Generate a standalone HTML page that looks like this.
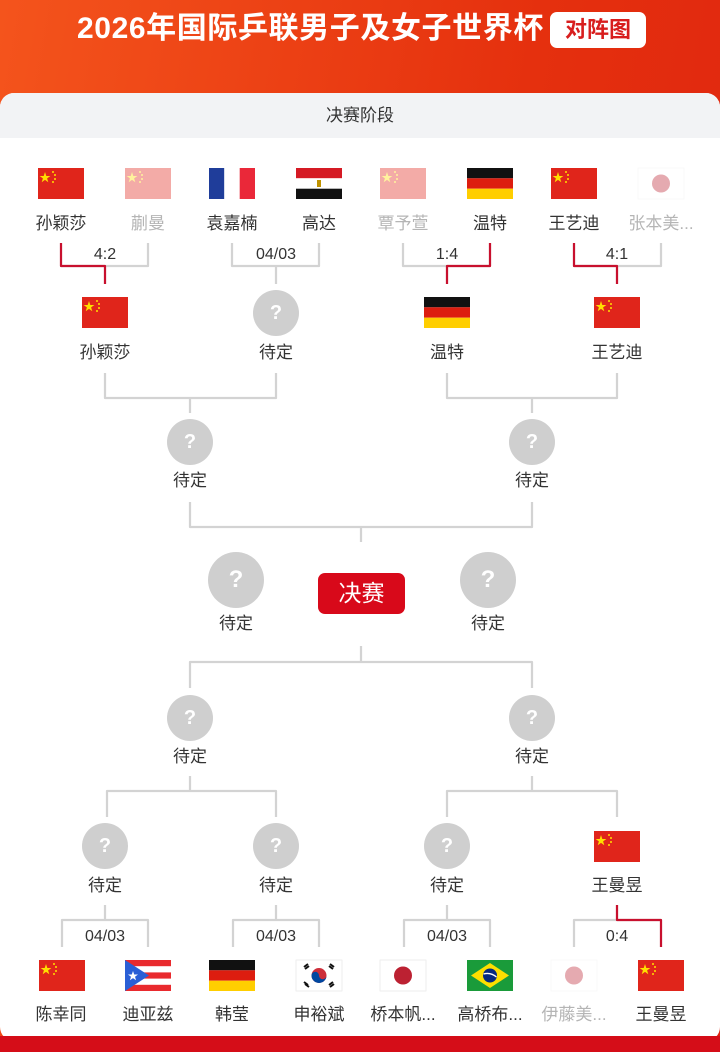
<!DOCTYPE html>
<html><head><meta charset="utf-8"><style>
*{margin:0;padding:0;box-sizing:border-box}
body{width:720px;height:1052px;overflow:hidden;position:relative;font-family:"Liberation Sans","Noto Sans CJK SC",sans-serif;background:linear-gradient(100deg,#f4541c,#e5300e 60%,#de2410)}
.bot{position:absolute;left:0;top:1036px;width:720px;height:16px;background:#d50d18}
.card{position:absolute;left:0;top:93px;width:720px;height:948px;background:#fff;border-radius:14px;overflow:hidden}
.strip{height:45px;background:#f2f3f5;text-align:center;line-height:45px;font-size:17px;color:#333}
.title{position:absolute;left:77px;top:10px;font-size:30px;font-weight:bold;color:#fff;letter-spacing:0.6px;line-height:38px;white-space:nowrap}
.badge{position:absolute;left:550px;top:12px;width:96px;height:36px;background:#fff;border-radius:7px;color:#d81e1e;font-size:22px;font-weight:bold;text-align:center;line-height:36px}
.t{position:absolute;width:100px;margin-left:-50px;text-align:center;font-size:17px;color:#333;line-height:20px;white-space:nowrap}
.f{color:#b5b5b5}
.s{position:absolute;width:80px;margin-left:-40px;text-align:center;font-size:16px;color:#333;line-height:20px}
.q{position:absolute;border-radius:50%;background:#cfcfcf;color:#fff;text-align:center;font-weight:bold}
.final{position:absolute;left:318px;top:573px;width:87px;height:41px;background:#d8091a;border-radius:7px;color:#fff;font-size:23px;text-align:center;line-height:41px}
</style></head><body>
<div class="title">2026年国际乒联男子及女子世界杯</div>
<div class="badge">对阵图</div>
<div class="card"><div class="strip">决赛阶段</div></div>
<div class="bot"></div>

<svg width="720" height="1052" style="position:absolute;left:0;top:0" fill="none" stroke-width="2.2" stroke-linejoin="round">
<defs>
<g id="cn"><rect width="46" height="31" fill="#e0251b"/><g fill="#ffde00"><polygon points="7,4 8.3,8 12.4,8 9.1,10.4 10.3,14.3 7,11.9 3.7,14.3 4.9,10.4 1.6,8 5.7,8"/><circle cx="15" cy="4" r="1"/><circle cx="17" cy="7" r="1"/><circle cx="17" cy="11" r="1"/><circle cx="15" cy="14" r="1"/></g></g>
<g id="fr"><rect width="15.3" height="31" fill="#1f3d9a"/><rect x="15.3" width="15.4" height="31" fill="#fff"/><rect x="30.7" width="15.3" height="31" fill="#ea2839"/></g>
<g id="eg"><rect width="46" height="10.3" fill="#d51a24"/><rect y="10.3" width="46" height="10.4" fill="#fff"/><rect y="20.7" width="46" height="10.3" fill="#111"/><rect x="21" y="12" width="4" height="7" fill="#c09300"/></g>
<g id="de"><rect width="46" height="10.3" fill="#111"/><rect y="10.3" width="46" height="10.4" fill="#dd1d0f"/><rect y="20.7" width="46" height="10.3" fill="#ffce00"/></g>
<g id="jp"><rect width="46" height="31" fill="#fff" stroke="#eee" stroke-width="1"/><circle cx="23" cy="15.5" r="9" fill="#bc2132"/></g>
<g id="pr"><rect width="46" height="31" fill="#fff"/><g fill="#e92a2e"><rect width="46" height="6.2"/><rect y="12.4" width="46" height="6.2"/><rect y="24.8" width="46" height="6.2"/></g><polygon points="0,0 24,15.5 0,31" fill="#2a5fd6"/><polygon points="8,11 9.2,14.5 13,14.5 10,16.7 11.1,20.3 8,18.1 4.9,20.3 6,16.7 3,14.5 6.8,14.5" fill="#fff"/></g>
<g id="kr"><rect width="46" height="31" fill="#fff" stroke="#eee" stroke-width="1"/><circle cx="23" cy="15.5" r="7.5" fill="#cd2e3a"/><path d="M15.5 15.5a7.5 7.5 0 0 0 15 0a3.75 3.75 0 0 1 -7.5 0a3.75 3.75 0 0 0 -7.5 0z" fill="#0047a0"/><g stroke="#111" stroke-width="2"><path d="M8 7l4 -3M9 9l4 -3M33 25l4 -3M34 27l4 -3M34 4l4 3M33 6l4 3M8 22l4 3M9 24l4 3"/></g></g>
<g id="br"><rect width="46" height="31" fill="#1a9b3a"/><polygon points="23,3 42,15.5 23,28 4,15.5" fill="#fedf00"/><circle cx="23" cy="15.5" r="7" fill="#062a7e"/><path d="M16.5 14q7 -2 13 3" stroke="#fff" stroke-width="1.3"/></g>
</defs>
<g stroke="#d3d3d3">
<path d="M61 243V266H148V243M105 266V284"/>
<path d="M232 243V266H319V243M276 266V284"/>
<path d="M403 243V266H490V243M447 266V284"/>
<path d="M574 243V266H661V243M617 266V284"/>
<path d="M105 373V398H276V373M190 398V413"/>
<path d="M447 373V398H617V373M532 398V413"/>
<path d="M190 502V527H532V502M361 527V542"/>
<path d="M361 646V662M190 688V662H532V688"/>
<path d="M190 776V791M107 817V791H276V817"/>
<path d="M532 776V791M447 817V791H617V817"/>
<path d="M105 905V920M62 947V920H148V947"/>
<path d="M276 905V920M233 947V920H319V947"/>
<path d="M447 905V920M404 947V920H490V947"/>
<path d="M617 905V920M574 947V920H661V947"/>
</g>
<g stroke="#c8102e">
<path d="M61 243V266H105V284"/>
<path d="M490 243V266H447V284"/>
<path d="M574 243V266H617V284"/>
<path d="M617 905V920H661V947"/>
</g>
<use href="#cn" x="38" y="168"/>
<use href="#cn" x="125" y="168" opacity="0.38"/>
<use href="#fr" x="209" y="168"/>
<use href="#eg" x="296" y="168"/>
<use href="#cn" x="380" y="168" opacity="0.38"/>
<use href="#de" x="467" y="168"/>
<use href="#cn" x="551" y="168"/>
<use href="#jp" x="638" y="168" opacity="0.38"/>
<use href="#cn" x="82" y="297"/>
<use href="#de" x="424" y="297"/>
<use href="#cn" x="594" y="297"/>
<use href="#cn" x="594" y="831"/>
<use href="#cn" x="39" y="960"/>
<use href="#pr" x="125" y="960"/>
<use href="#de" x="209" y="960"/>
<use href="#kr" x="296" y="960"/>
<use href="#jp" x="380" y="960"/>
<use href="#br" x="467" y="960"/>
<use href="#jp" x="551" y="960" opacity="0.38"/>
<use href="#cn" x="638" y="960"/>
</svg>

<div class="t" style="left:61px;top:214px">孙颖莎</div>
<div class="t f" style="left:148px;top:214px">蒯曼</div>
<div class="t" style="left:232px;top:214px">袁嘉楠</div>
<div class="t" style="left:319px;top:214px">高达</div>
<div class="t f" style="left:403px;top:214px">覃予萱</div>
<div class="t" style="left:490px;top:214px">温特</div>
<div class="t" style="left:574px;top:214px">王艺迪</div>
<div class="t f" style="left:661px;top:214px">张本美...</div>
<div class="s" style="left:105px;top:245px">4:2</div>
<div class="s" style="left:276px;top:245px">04/03</div>
<div class="s" style="left:447px;top:245px">1:4</div>
<div class="s" style="left:617px;top:245px">4:1</div>

<div class="q" style="left:253px;top:290px;width:46px;height:46px;line-height:46px;font-size:20px">?</div>
<div class="t" style="left:105px;top:343px">孙颖莎</div>
<div class="t" style="left:276px;top:343px">待定</div>
<div class="t" style="left:447px;top:343px">温特</div>
<div class="t" style="left:617px;top:343px">王艺迪</div>

<div class="q" style="left:167px;top:419px;width:46px;height:46px;line-height:46px;font-size:20px">?</div>
<div class="q" style="left:509px;top:419px;width:46px;height:46px;line-height:46px;font-size:20px">?</div>
<div class="t" style="left:190px;top:471px">待定</div>
<div class="t" style="left:532px;top:471px">待定</div>

<div class="q" style="left:208px;top:552px;width:56px;height:56px;line-height:56px;font-size:24px">?</div>
<div class="q" style="left:460px;top:552px;width:56px;height:56px;line-height:56px;font-size:24px">?</div>
<div class="t" style="left:236px;top:614px">待定</div>
<div class="t" style="left:488px;top:614px">待定</div>
<div class="final">决赛</div>

<div class="q" style="left:167px;top:695px;width:46px;height:46px;line-height:46px;font-size:20px">?</div>
<div class="q" style="left:509px;top:695px;width:46px;height:46px;line-height:46px;font-size:20px">?</div>
<div class="t" style="left:190px;top:747px">待定</div>
<div class="t" style="left:532px;top:747px">待定</div>

<div class="q" style="left:82px;top:823px;width:46px;height:46px;line-height:46px;font-size:20px">?</div>
<div class="q" style="left:253px;top:823px;width:46px;height:46px;line-height:46px;font-size:20px">?</div>
<div class="q" style="left:424px;top:823px;width:46px;height:46px;line-height:46px;font-size:20px">?</div>
<div class="t" style="left:105px;top:876px">待定</div>
<div class="t" style="left:276px;top:876px">待定</div>
<div class="t" style="left:447px;top:876px">待定</div>
<div class="t" style="left:617px;top:876px">王曼昱</div>

<div class="s" style="left:105px;top:927px">04/03</div>
<div class="s" style="left:276px;top:927px">04/03</div>
<div class="s" style="left:447px;top:927px">04/03</div>
<div class="s" style="left:617px;top:927px">0:4</div>

<div class="t" style="left:61px;top:1005px">陈幸同</div>
<div class="t" style="left:148px;top:1005px">迪亚兹</div>
<div class="t" style="left:232px;top:1005px">韩莹</div>
<div class="t" style="left:319px;top:1005px">申裕斌</div>
<div class="t" style="left:403px;top:1005px">桥本帆...</div>
<div class="t" style="left:490px;top:1005px">高桥布...</div>
<div class="t f" style="left:574px;top:1005px">伊藤美...</div>
<div class="t" style="left:661px;top:1005px">王曼昱</div>
</body></html>
